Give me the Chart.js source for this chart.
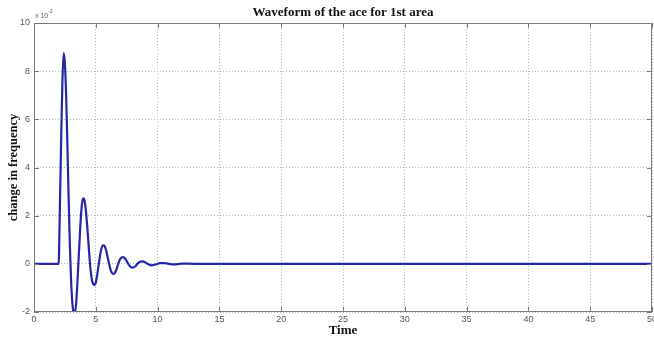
<!DOCTYPE html>
<html>
<head>
<meta charset="utf-8">
<script src="https://cdn.jsdelivr.net/npm/chart.js@4"></script>
<style>
  body { margin: 0; background: #fff; }
  #wrap { width: 654px; height: 338px; position: relative; }
</style>
</head>
<body>
<div id="wrap"><canvas id="chartAce"></canvas></div>
<script>
// time axis (s) and ACE of area 1 (units of 1e-3)
const timeValues = [
  0, 2.0, 2.02, 2.1, 2.2, 2.3, 2.4, 2.5, 2.6, 2.7, 2.8, 2.9,
  3.0, 3.1, 3.2, 3.3, 3.4, 3.5, 3.6, 3.7, 3.8, 3.9,
  4.0, 4.1, 4.2, 4.3, 4.4, 4.5, 4.6, 4.7, 4.8, 4.9,
  5.0, 5.1, 5.2, 5.3, 5.4, 5.5, 5.6, 5.7, 5.8, 5.9,
  6.0, 6.1, 6.2, 6.3, 6.4, 6.5, 6.6, 6.7, 6.8, 6.9,
  7.0, 7.2, 7.4, 7.6, 7.8, 8.0, 8.2, 8.4, 8.6, 8.8,
  9.0, 9.2, 9.5, 9.8, 10.2, 10.6, 11.0, 11.5, 12.0, 13.0, 50
];
const aceValues = [
  0, 0, 0.3, 2.5, 5.2, 7.6, 8.75, 8.3, 7.0, 5.0, 2.8, 0.8,
  -0.7, -1.6, -2.0, -2.05, -1.7, -0.9, 0.1, 1.1, 2.0, 2.55,
  2.72, 2.6, 2.2, 1.6, 0.9, 0.2, -0.35, -0.7, -0.85, -0.88,
  -0.78, -0.5, -0.15, 0.2, 0.5, 0.7, 0.77, 0.75, 0.62, 0.42,
  0.18, -0.05, -0.25, -0.37, -0.42, -0.4, -0.32, -0.18, -0.02, 0.12,
  0.22, 0.28, 0.2, 0.02, -0.12, -0.16, -0.1, 0.02, 0.09, 0.1,
  0.06, -0.01, -0.06, -0.03, 0.03, 0.03, -0.01, -0.02, 0.01, 0, 0
];

const xTicks = [0, 5, 10, 15, 20, 25, 30, 35, 40, 45, 50];
const yTicks = [-2, 0, 2, 4, 6, 8, 10];
const chartTitle = 'Waveform of the ace for 1st area';

const serif = "'Liberation Serif', 'DejaVu Serif', serif";
const sans = "'Liberation Sans', Arial, sans-serif";

// MATLAB style box, inward tick marks, title over the axes and the x10^-3 label
const matlabBox = {
  id: 'matlabBox',
  afterDraw(chart) {
    const { ctx, chartArea: a, scales } = chart;
    ctx.save();
    ctx.strokeStyle = '#7a7a7a';
    ctx.lineWidth = 1;
    ctx.strokeRect(a.left + 0.5, a.top + 0.5, a.right - a.left - 1, a.bottom - a.top - 1);

    ctx.beginPath();
    xTicks.forEach((v) => {
      const px = Math.round(scales.x.getPixelForValue(v)) + 0.5;
      ctx.moveTo(px, a.bottom); ctx.lineTo(px, a.bottom - 5);
      ctx.moveTo(px, a.top); ctx.lineTo(px, a.top + 5);
    });
    yTicks.forEach((v) => {
      const py = Math.round(scales.y.getPixelForValue(v)) + 0.5;
      ctx.moveTo(a.left, py); ctx.lineTo(a.left + 5, py);
      ctx.moveTo(a.right, py); ctx.lineTo(a.right - 5, py);
    });
    ctx.stroke();

    ctx.fillStyle = '#111';
    ctx.font = `bold 13px ${serif}`;
    ctx.textAlign = 'center';
    ctx.textBaseline = 'middle';
    ctx.fillText(chartTitle, (a.left + a.right) / 2, a.top - 10);

    ctx.fillStyle = '#666';
    ctx.textAlign = 'left';
    ctx.textBaseline = 'alphabetic';
    ctx.font = `7px ${sans}`;
    ctx.fillText('x 10', a.left + 1, a.top - 5);
    ctx.font = `5px ${sans}`;
    ctx.fillText('-3', a.left + 14, a.top - 10);
    ctx.restore();
  }
};

new Chart(document.getElementById('chartAce'), {
  type: 'line',
  data: {
    datasets: [{
      label: 'ACE area 1',
      data: timeValues.map((t, i) => ({ x: t, y: aceValues[i] })),
      borderColor: '#2626a6',
      borderWidth: 2.2,
      pointRadius: 0,
      cubicInterpolationMode: 'monotone',
      fill: false
    }]
  },
  options: {
    responsive: true,
    maintainAspectRatio: false,
    animation: false,
    layout: { padding: { top: 23, right: 2, left: 0, bottom: 0 } },
    plugins: {
      legend: { display: false },
      tooltip: { enabled: false },
      title: { display: false }
    },
    scales: {
      x: {
        type: 'linear',
        min: 0,
        max: 50,
        afterBuildTicks: (scale) => { scale.ticks = xTicks.map((v) => ({ value: v })); },
        afterFit: (scale) => {
          scale.height = 26;
          scale.paddingLeft = 0;
          scale.paddingRight = 0;
        },
        grid: { color: '#b5b5b5', drawTicks: false },
        border: { display: false, dash: [1, 2] },
        ticks: { color: '#555', font: { family: sans, size: 9 }, padding: 2, maxRotation: 0 },
        title: {
          display: true,
          text: 'Time',
          color: '#111',
          font: { family: serif, size: 13, weight: 'bold', lineHeight: 1.1 },
          padding: { top: 0, bottom: 0 }
        }
      },
      y: {
        min: -2,
        max: 10,
        afterBuildTicks: (scale) => { scale.ticks = yTicks.map((v) => ({ value: v })); },
        afterFit: (scale) => {
          scale.width = 34;
          scale.paddingTop = 0;
        },
        grid: { color: '#b5b5b5', drawTicks: false },
        border: { display: false, dash: [1, 2] },
        ticks: { color: '#555', font: { family: sans, size: 9 }, padding: 4 },
        title: {
          display: true,
          text: 'change in frequency',
          color: '#111',
          font: { family: serif, size: 12.5, weight: 'bold', lineHeight: 1.1 },
          padding: { top: 7, bottom: 0 }
        }
      }
    }
  },
  plugins: [matlabBox]
});
</script>
</body>
</html>
